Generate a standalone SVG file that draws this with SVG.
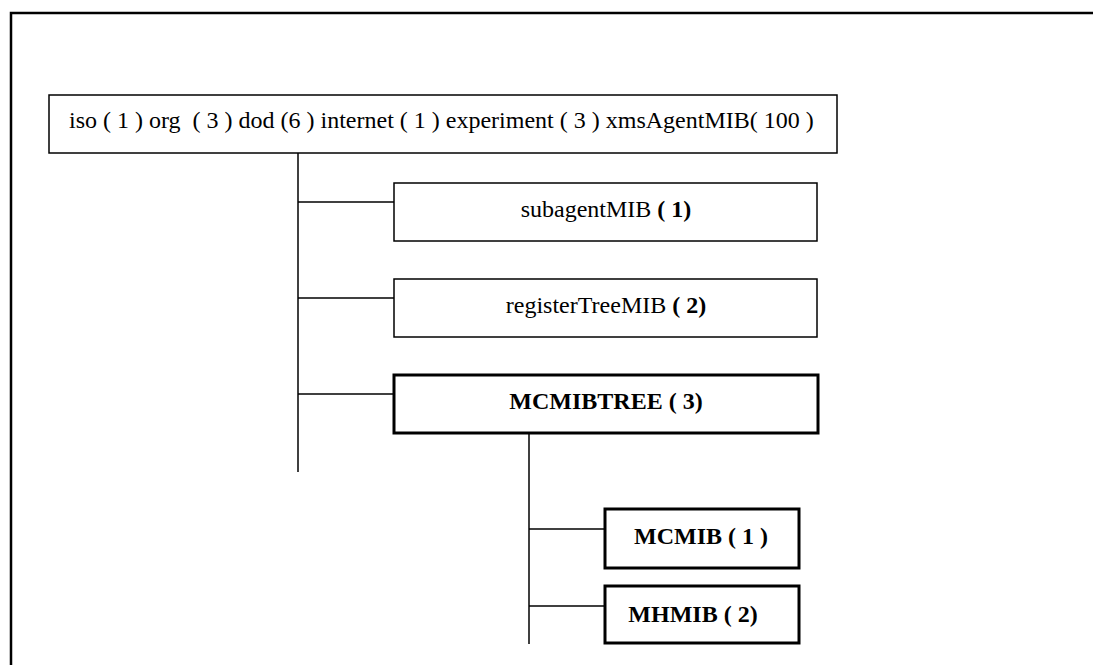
<svg xmlns="http://www.w3.org/2000/svg" width="1093" height="665" viewBox="0 0 1093 665">
  <style>
    .frame { fill: none; stroke: #000; stroke-width: 2.5; }
    .box { fill: #fff; stroke: #000; stroke-width: 1.5; }
    .box-bold { fill: #fff; stroke: #000; stroke-width: 3; }
    .link { fill: none; stroke: #000; stroke-width: 1.5; }
    .label { font-family: "Liberation Serif", "Times New Roman", serif; font-size: 24px; fill: #000; }
    .mid { text-anchor: middle; }
    .b { font-weight: bold; }
  </style>

  <rect width="1093" height="665" fill="#fff"/>

  <!-- outer frame, open to the right and bottom -->
  <path class="frame" d="M 11 668 V 13 H 1096"/>

  <!-- tree connectors -->
  <g id="connectors">
    <path class="link" d="M 298 153 V 472"/>
    <path class="link" d="M 298 202 H 394"/>
    <path class="link" d="M 298 298 H 394"/>
    <path class="link" d="M 298 394 H 394"/>
    <path class="link" d="M 529 433 V 644"/>
    <path class="link" d="M 529 529 H 605"/>
    <path class="link" d="M 529 606 H 605"/>
  </g>

  <g id="root">
    <rect class="box" x="49" y="95" width="788" height="58"/>
    <text class="label" x="69" y="128" xml:space="preserve">iso ( 1 ) org  ( 3 ) dod (6 ) internet ( 1 ) experiment ( 3 ) xmsAgentMIB( 100 )</text>
  </g>

  <g id="subagentMIB">
    <rect class="box" x="394" y="183" width="423" height="58"/>
    <text class="label mid" x="606" y="217">subagentMIB <tspan class="b">( 1)</tspan></text>
  </g>

  <g id="registerTreeMIB">
    <rect class="box" x="394" y="279" width="423" height="58"/>
    <text class="label mid" x="606" y="313">registerTreeMIB <tspan class="b">( 2)</tspan></text>
  </g>

  <g id="MCMIBTREE">
    <rect class="box-bold" x="394" y="375" width="424" height="58"/>
    <text class="label mid b" x="606" y="409">MCMIBTREE ( 3)</text>
  </g>

  <g id="MCMIB">
    <rect class="box-bold" x="605" y="509" width="194" height="59"/>
    <text class="label mid b" x="701" y="544">MCMIB ( 1 )</text>
  </g>

  <g id="MHMIB">
    <rect class="box-bold" x="605" y="586" width="194" height="57"/>
    <text class="label mid b" x="693" y="622">MHMIB ( 2)</text>
  </g>
</svg>
